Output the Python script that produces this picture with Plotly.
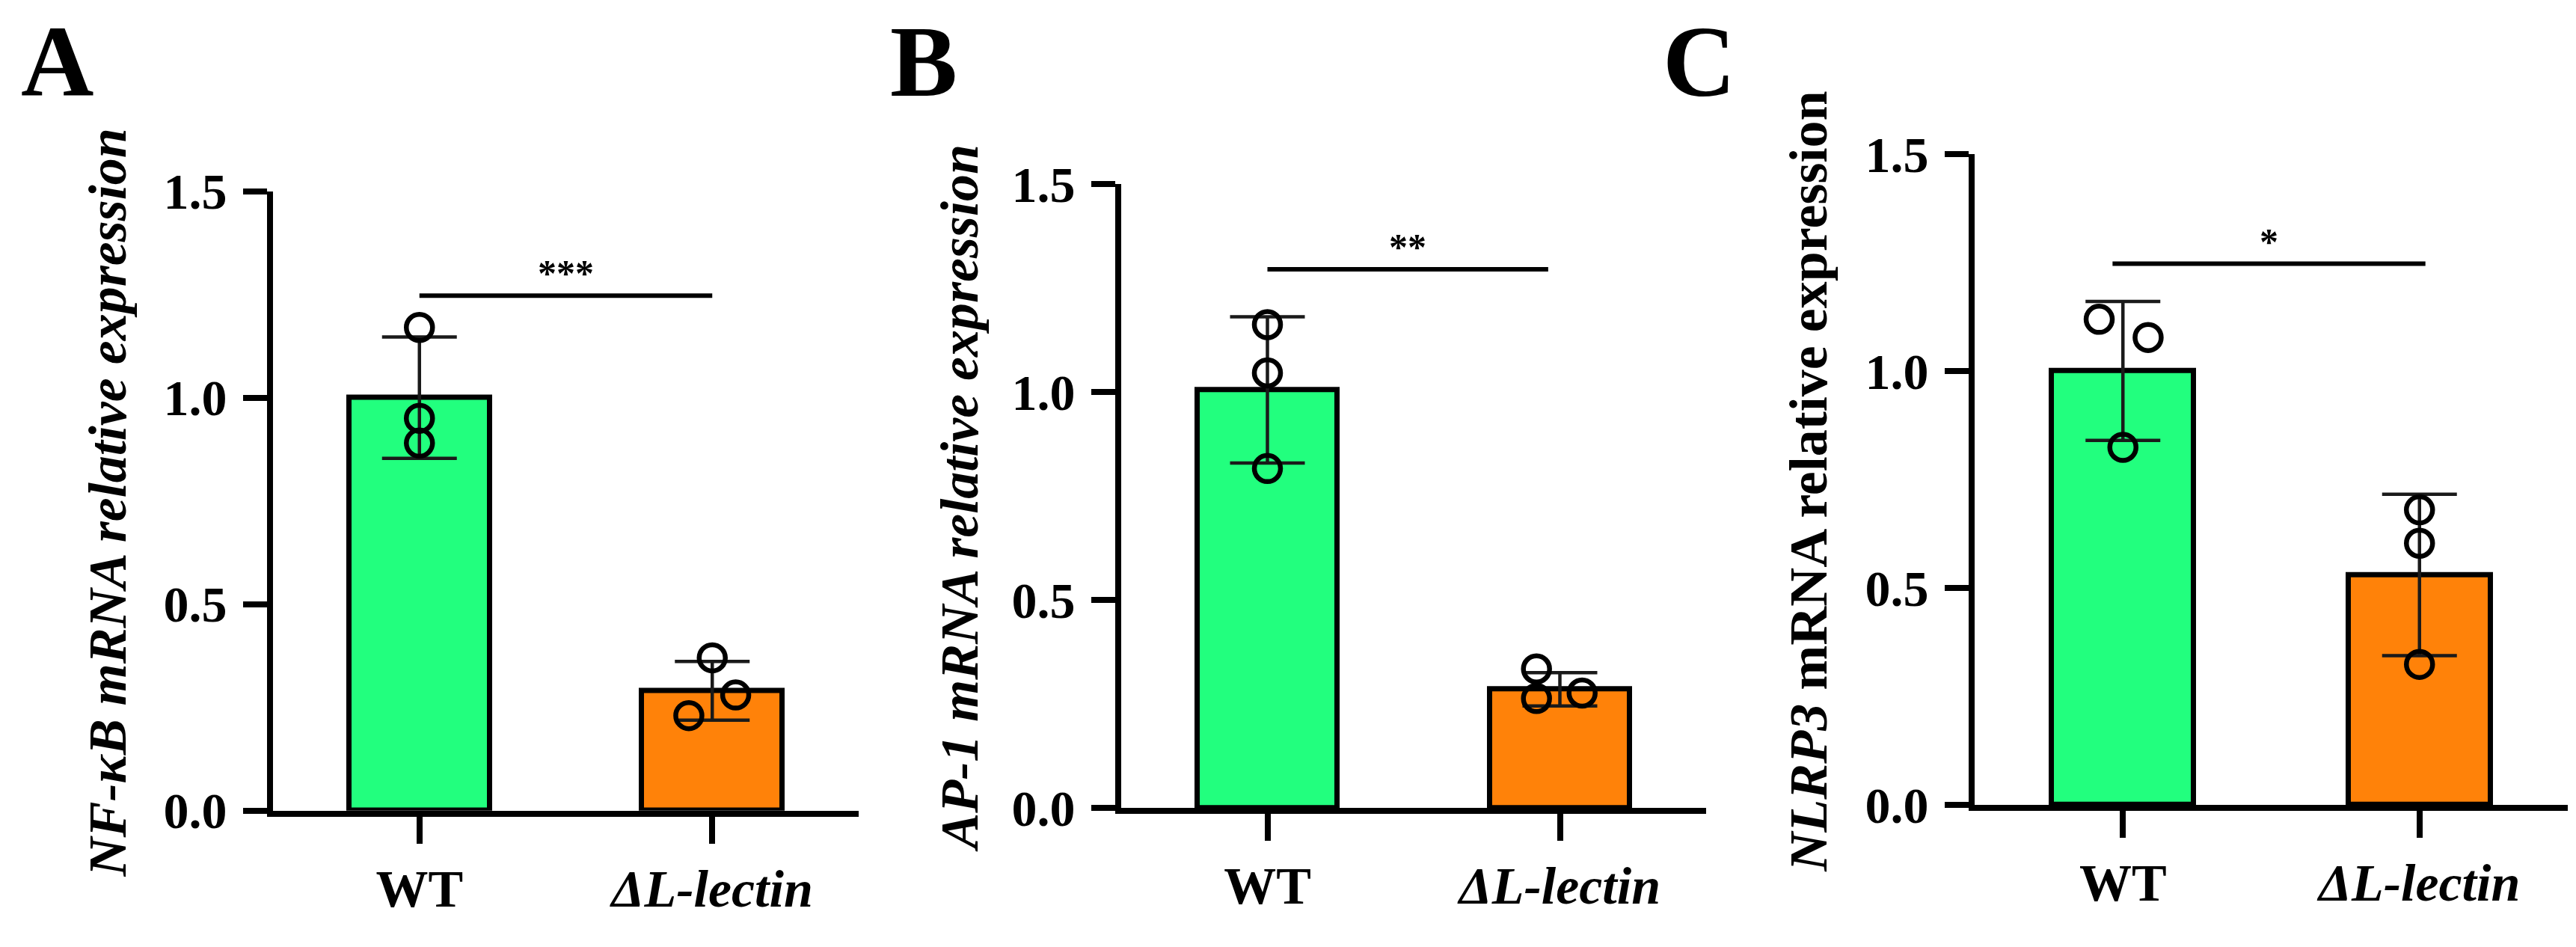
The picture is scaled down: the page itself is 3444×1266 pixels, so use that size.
import plotly.graph_objects as go

# ---------------- data ----------------
categories = ["WT", "ΔL-lectin"]
category_ticktext = ["WT", "<i>ΔL-lectin</i>"]
panel_letters = ["A", "B", "C"]
y_titles = [
    "<i>NF-κB mRNA relative expression</i>",
    "<i>AP-1 mRNA relative expression</i>",
    "<i>NLRP3</i> mRNA relative expression",
]
y_tickvals = [0.0, 0.5, 1.0, 1.5]
y_ticktext = ["0.0", "0.5", "1.0", "1.5"]

# Panel A: NF-kB
nfkb_mean = [1.00, 0.29]
nfkb_sd = [0.147, 0.071]
nfkb_wt_points = [1.17, 0.95, 0.89]
nfkb_ko_points = [0.37, 0.28, 0.23]
nfkb_sig_level = 1.247
nfkb_sig_label = "***"

# Panel B: AP-1
ap1_mean = [1.005, 0.285]
ap1_sd = [0.176, 0.040]
ap1_wt_points = [1.162, 1.046, 0.816]
ap1_ko_points = [0.334, 0.263, 0.276]
ap1_sig_level = 1.295
ap1_sig_label = "**"

# Panel C: NLRP3
nlrp3_mean = [1.00, 0.53]
nlrp3_sd = [0.160, 0.186]
nlrp3_wt_points = [1.119, 1.077, 0.824]
nlrp3_ko_points = [0.680, 0.603, 0.324]
nlrp3_sig_level = 1.247
nlrp3_sig_label = "*"

# ---------------- styling ----------------
W, H = 3444, 1266
FONT = "Liberation Serif"
bar_colors = ["#22FF7E", "#FF8209"]
# horizontal jitter of the dots (category units)
jitter = {
    "A": ([0.0, 0.0, 0.0], [0.0, 0.08, -0.08]),
    "B": ([0.0, 0.0, 0.0], [-0.08, -0.08, 0.076]),
    "C": ([-0.08, 0.085, 0.0], [0.0, 0.0, 0.0]),
}
sig_span = {"A": (0.0, 1.0), "B": (0.0, 0.96), "C": (-0.035, 1.02)}
# pixel layout per panel: (axis_left, axis_right, y_top(1.5), y_bottom(0))
px_layout = {
    "A": (357, 1140, 224, 1105),
    "B": (1491, 2273, 214, 1101),
    "C": (2632, 3425, 171, 1097),
}
title_x = {"A": 136, "B": 1275, "C": 2410}
letter_x = {"A": 18, "B": 1180, "C": 2213}

panels = [
    ("A", nfkb_mean, nfkb_sd, nfkb_wt_points, nfkb_ko_points, nfkb_sig_level, nfkb_sig_label),
    ("B", ap1_mean, ap1_sd, ap1_wt_points, ap1_ko_points, ap1_sig_level, ap1_sig_label),
    ("C", nlrp3_mean, nlrp3_sd, nlrp3_wt_points, nlrp3_ko_points, nlrp3_sig_level, nlrp3_sig_label),
]

fig = go.Figure()
annotations = []
layout_axes = {}
xpos = list(range(len(categories)))

for i, (key, mean, sd, wt_pts, ko_pts, sig_level, sig_label) in enumerate(panels):
    sfx = "" if i == 0 else str(i + 1)
    xa, ya = "x" + sfx, "y" + sfx
    left, right, top, bottom = px_layout[key]

    fig.add_trace(go.Bar(
        x=xpos, y=mean, width=0.48, xaxis=xa, yaxis=ya,
        marker=dict(color=bar_colors, line=dict(color="black", width=7)),
        error_y=dict(type="data", array=sd, visible=True, color="#1a1a1a", thickness=4.5, width=50),
        showlegend=False,
    ))
    for ci, pts in enumerate([wt_pts, ko_pts]):
        offs = jitter[key][ci]
        fig.add_trace(go.Scatter(
            x=[xpos[ci] + o for o in offs], y=pts, mode="markers", xaxis=xa, yaxis=ya,
            marker=dict(symbol="circle-open", size=35, color="black", line=dict(width=6.5, color="black")),
            showlegend=False,
        ))
    x0, x1 = sig_span[key]
    fig.add_trace(go.Scatter(
        x=[xpos[0] + x0, xpos[1] - (1 - x1)], y=[sig_level, sig_level], mode="lines",
        xaxis=xa, yaxis=ya, line=dict(color="black", width=6), showlegend=False,
    ))
    annotations.append(dict(
        x=(xpos[0] + x0 + xpos[1] - (1 - x1)) / 2, y=sig_level, xref=xa, yref=ya,
        text=sig_label, showarrow=False, yanchor="bottom", yshift=0,
        font=dict(family=FONT, size=50, color="black", weight="bold"),
    ))

    layout_axes["xaxis" + sfx] = dict(
        domain=[left / W, right / W], anchor=ya, range=[-0.5, 1.5],
        tickvals=xpos, ticktext=category_ticktext, ticks="outside", ticklen=36, tickwidth=8,
        tickcolor="black", showline=True, linewidth=8, linecolor="black", showgrid=False,
        zeroline=False, tickfont=dict(family=FONT, size=70, color="black", weight="bold"),
        fixedrange=True,
    )
    layout_axes["yaxis" + sfx] = dict(
        domain=[1 - bottom / H, 1 - top / H], anchor=xa, range=[0, 1.5],
        tickvals=y_tickvals, ticktext=y_ticktext, ticks="outside", ticklen=32, tickwidth=8,
        tickcolor="black", showline=True, linewidth=8, linecolor="black", showgrid=False,
        zeroline=False, tickfont=dict(family=FONT, size=68, color="black", weight="bold"),
        ticklabelstandoff=8, fixedrange=True,
    )
    annotations.append(dict(
        x=title_x[key] / W, y=1 - ((top + bottom) / 2 + 3) / H, xref="paper", yref="paper",
        text=y_titles[i], textangle=-90, showarrow=False, xanchor="center", yanchor="middle",
        font=dict(family=FONT, size=72, color="black", weight="bold"),
    ))
    annotations.append(dict(
        x=letter_x[key] / W, y=1 - 78 / H, xref="paper", yref="paper",
        text=panel_letters[i], showarrow=False, xanchor="left", yanchor="middle", yshift=-0,
        font=dict(family=FONT, size=135, color="black", weight="bold"),
    ))

fig.update_layout(
    width=W, height=H, margin=dict(l=0, r=0, t=0, b=0),
    paper_bgcolor="white", plot_bgcolor="white", bargap=0,
    annotations=annotations, **layout_axes,
)
# raise the panel letters to sit at the top edge like the reference
for a in fig.layout.annotations:
    if a.text in panel_letters:
        a.y = 1 - 40 / H
fig.write_html("out.html", config={"displayModeBar": False})
